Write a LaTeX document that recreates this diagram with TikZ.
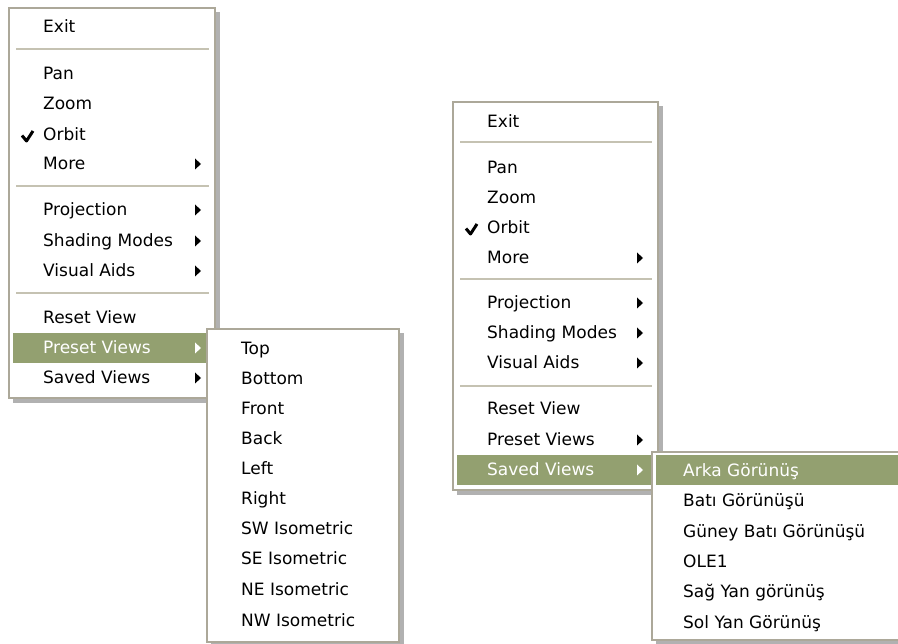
\documentclass[tikz,border=0pt]{standalone}
\usepackage{fontspec}
\setmainfont{DejaVu Sans}
\usetikzlibrary{positioning}
\definecolor{menuedge}{HTML}{ACA899}
\definecolor{menusep}{HTML}{C5C2B2}
\definecolor{menuhigh}{HTML}{93A070}
\definecolor{menushadow}{HTML}{7E7E7E}
\tikzset{
  menubox/.style={draw=menuedge, line width=1.2pt, fill=white},
  menushade/.style={fill=menushadow, opacity=0.6},
  menusepline/.style={draw=menusep, line width=1.3pt},
  menuitem/.style={anchor=base west, inner sep=0pt, font=\fontsize{17}{17}\selectfont, text=black},
  hiitem/.style={menuitem, text=white},
  subarrow/.style={fill=black},
  hiarrow/.style={fill=white}
}
\begin{document}
\begin{tikzpicture}[x=1pt, y=-1pt]
  \useasboundingbox (0,0) rectangle (898,644);
  \fill[white] (0,0) rectangle (898,644);

  % Left context menu
  \fill[menushade] (13,12) rectangle (220,403);
  \path[menubox] (9,8) rectangle (215,398);
  \fill[menuhigh] (12.5,333) rectangle (212,363);
  \path[menusepline] (16,49) -- (209,49);
  \path[menusepline] (16,186) -- (209,186);
  \path[menusepline] (16,293) -- (209,293);
  \node[menuitem] (lexit) at (43,33) {Exit};
  \node[menuitem] (lpan) at (43,80) {Pan};
  \node[menuitem] (lzoom) at (43,110) {Zoom};
  \node[menuitem] (lorbit) at (43,141) {Orbit};
  \node[menuitem] (lmore) at (43,170) {More};
  \node[menuitem] (lproj) at (43,216) {Projection};
  \node[menuitem] (lshade) at (43,247) {Shading Modes};
  \node[menuitem] (laids) at (43,277) {Visual Aids};
  \node[menuitem] (lreset) at (43,324) {Reset View};
  \node[hiitem] (lpreset) at (43,354) {Preset Views};
  \node[menuitem] (lsaved) at (43,384) {Saved Views};
  \draw[line width=3pt, line join=round] (22,135.5) -- (26.5,141) -- (33,131);
  \fill[subarrow] (195,158.5) -- (201,164) -- (195,169.5) -- cycle;
  \fill[subarrow] (195,204.5) -- (201,210) -- (195,215.5) -- cycle;
  \fill[subarrow] (195,235.5) -- (201,241) -- (195,246.5) -- cycle;
  \fill[subarrow] (195,265.5) -- (201,271) -- (195,276.5) -- cycle;
  \fill[hiarrow] (195,342.5) -- (201,348) -- (195,353.5) -- cycle;
  \fill[subarrow] (195,372.5) -- (201,378) -- (195,383.5) -- cycle;

  % Preset Views submenu
  \fill[menushade] (211,333) rectangle (404,648);
  \path[menubox] (207,329) rectangle (399,642);
  \node[menuitem] (ptop) at (241,355) {Top};
  \node[menuitem] (pbottom) at (241,385) {Bottom};
  \node[menuitem] (pfront) at (241,415) {Front};
  \node[menuitem] (pback) at (241,445) {Back};
  \node[menuitem] (pleft) at (241,475) {Left};
  \node[menuitem] (pright) at (241,505) {Right};
  \node[menuitem] (psw) at (241,535) {SW Isometric};
  \node[menuitem] (pse) at (241,565) {SE Isometric};
  \node[menuitem] (pne) at (241,595) {NE Isometric};
  \node[menuitem] (pnw) at (241,626) {NW Isometric};

  % Right context menu
  \fill[menushade] (457,106) rectangle (663,495);
  \path[menubox] (453,102) rectangle (658,490);
  \fill[menuhigh] (456.5,455) rectangle (655,485);
  \path[menusepline] (460,142) -- (652,142);
  \path[menusepline] (460,279) -- (652,279);
  \path[menusepline] (460,386) -- (652,386);
  \node[menuitem] (rexit) at (487,128) {Exit};
  \node[menuitem] (rpan) at (487,174) {Pan};
  \node[menuitem] (rzoom) at (487,204) {Zoom};
  \node[menuitem] (rorbit) at (487,234) {Orbit};
  \node[menuitem] (rmore) at (487,264) {More};
  \node[menuitem] (rproj) at (487,309) {Projection};
  \node[menuitem] (rshade) at (487,339) {Shading Modes};
  \node[menuitem] (raids) at (487,369) {Visual Aids};
  \node[menuitem] (rreset) at (487,415) {Reset View};
  \node[menuitem] (rpreset) at (487,446) {Preset Views};
  \node[hiitem] (rsaved) at (487,476) {Saved Views};
  \draw[line width=3pt, line join=round] (466,228.5) -- (470.5,234) -- (477,224);
  \fill[subarrow] (637,252.5) -- (643,258) -- (637,263.5) -- cycle;
  \fill[subarrow] (637,297.5) -- (643,303) -- (637,308.5) -- cycle;
  \fill[subarrow] (637,327.5) -- (643,333) -- (637,338.5) -- cycle;
  \fill[subarrow] (637,357.5) -- (643,363) -- (637,368.5) -- cycle;
  \fill[subarrow] (637,434.5) -- (643,440) -- (637,445.5) -- cycle;
  \fill[hiarrow] (637,464.5) -- (643,470) -- (637,475.5) -- cycle;

  % Saved Views submenu
  \fill[menushade] (656,456) rectangle (898,644);
  \fill[white] (652,452) rectangle (898,640);
  \draw[menuedge, line width=1.2pt] (898,452) -- (652,452) -- (652,640) -- (898,640);
  \fill[menuhigh] (655.5,455) rectangle (898,485);
  \node[hiitem] (sarka) at (683,477) {Arka Görünüş};
  \node[menuitem] (sbati) at (683,507) {Batı Görünüşü};
  \node[menuitem] (sguney) at (683,537) {Güney Batı Görünüşü};
  \node[menuitem] (sole) at (683,567) {OLE1};
  \node[menuitem] (ssag) at (683,597) {Sağ Yan görünüş};
  \node[menuitem] (ssol) at (683,628) {Sol Yan Görünüş};
\end{tikzpicture}
\end{document}
